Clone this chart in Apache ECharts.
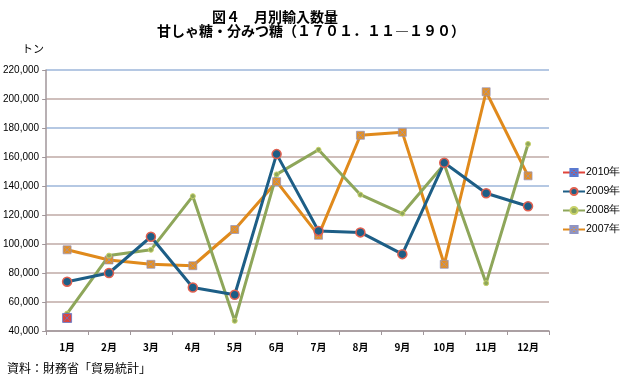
<!DOCTYPE html>
<html><head><meta charset="utf-8">
<script src="https://cdn.jsdelivr.net/npm/echarts@6/dist/echarts.min.js"></script>
<style>html,body{margin:0;padding:0;background:#fff}#c{width:620px;height:379px}</style>
</head><body><div id="c"></div>
<script>
var categories = ['1月','2月','3月','4月','5月','6月','7月','8月','9月','10月','11月','12月'];
var yTicks = [40000,60000,80000,100000,120000,140000,160000,180000,200000,220000];
var s2010 = [49000,null,null,null,null,null,null,null,null,null,null,null];
var s2009 = [74000,80000,105000,70000,65000,162000,109000,108000,93000,156000,135000,126000];
var s2008 = [52000,92000,96000,133000,47000,148000,165000,134000,121000,155000,73000,169000];
var s2007 = [96000,89000,86000,85000,110000,143000,106000,175000,177000,86000,205000,147000];

var FONT = '"Noto Sans CJK JP", "Noto Sans", sans-serif';
var chart = echarts.init(document.getElementById('c'), null, {renderer:'canvas'});
var B = '#bfaaa6', L = '#9db6da';
var gridColors = [B,B,B,B,B,L,B,L,B,L];
var xSquare = 'path://M0,0H10V10H0Z M1,1L9,9 M9,1L1,9';
chart.setOption({
  animation:false,
  backgroundColor:'#fff',
  title:[
    {text:'図４　月別輸入数量', left:207, top:5, textStyle:{fontFamily:FONT, fontSize:14, fontWeight:'bold', color:'#000'}},
    {text:'甘しゃ糖・分みつ糖（１７０１．１１―１９０）', left:152, top:19, textStyle:{fontFamily:FONT, fontSize:14, fontWeight:'bold', color:'#000'}},
    {text:'トン', left:17, top:38, textStyle:{fontFamily:FONT, fontSize:11, fontWeight:'normal', color:'#000'}},
    {text:'資料：財務省「貿易統計」', left:2, top:357, textStyle:{fontFamily:FONT, fontSize:12, fontWeight:'normal', color:'#000'}}
  ],
  grid:{left:42, right:71, top:70, bottom:48},
  legend:{
    orient:'vertical', left:562, top:167, itemGap:8, itemWidth:22, itemHeight:9, padding:0,
    data:['2010年','2009年','2008年','2007年'],
    textStyle:{fontFamily:'"Liberation Sans", Arial, sans-serif', fontSize:10.5, color:'#000', padding:[0,0,0,-4]}
  },
  xAxis:{
    type:'category', data:categories, boundaryGap:true,
    axisLine:{lineStyle:{color:'#a0969a', width:1.5}},
    axisTick:{show:true, length:4, lineStyle:{color:'#a0969a'}},
    axisLabel:{fontFamily:FONT, fontSize:10, fontWeight:'bold', color:'#000', margin:11}
  },
  yAxis:{
    type:'value', min:40000, max:220000, interval:20000,
    axisLine:{show:true, lineStyle:{color:'#a0969a', width:1.5}},
    axisTick:{show:true, length:4, lineStyle:{color:'#a0969a'}},
    axisLabel:{fontFamily:'"Liberation Sans", Arial, sans-serif', fontSize:10, color:'#000', margin:7,
      formatter:function(v){return v.toLocaleString('en-US');}},
    splitLine:{show:true, lineStyle:{color:gridColors, width:1.5}}
  },
  series:[
    {name:'2007年', type:'line', data:s2007, symbol:xSquare, symbolSize:8,
      lineStyle:{color:'#e08a1c', width:3}, itemStyle:{color:'#e8901e', borderColor:'#8f94c4', borderWidth:0.7}},
    {name:'2008年', type:'line', data:s2008, symbol:'circle', symbolSize:5,
      lineStyle:{color:'#8ea65a', width:3}, itemStyle:{color:'#8ea65a', borderColor:'#c8d26a', borderWidth:1}},
    {name:'2009年', type:'line', data:s2009, symbol:'circle', symbolSize:9,
      lineStyle:{color:'#1d5e86', width:3}, itemStyle:{color:'#1d5e86', borderColor:'#e06050', borderWidth:1.5}},
    {name:'2010年', type:'line', data:s2010, symbol:xSquare, symbolSize:9,
      lineStyle:{color:'#e0443a', width:3}, itemStyle:{color:'#e0443a', borderColor:'#5a7ad0', borderWidth:0.8}}
  ]
});
</script></body></html>
